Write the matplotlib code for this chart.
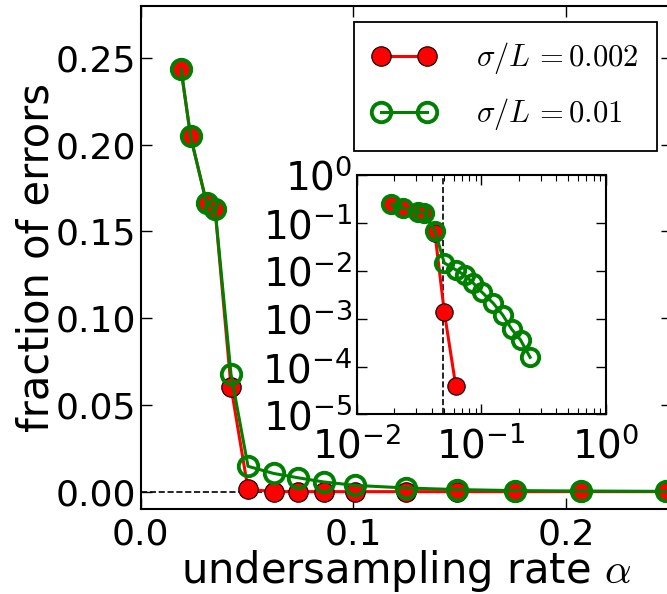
import matplotlib
matplotlib.use("Agg")
import matplotlib.pyplot as plt
import numpy as np

# ---- data ----
alpha = np.array([0.019, 0.0235, 0.031, 0.035, 0.0425, 0.0505, 0.0625, 0.074,
                  0.086, 0.101, 0.125, 0.1487, 0.176, 0.207, 0.247])
err_002 = np.array([0.2436, 0.2047, 0.1665, 0.1628, 0.0604, 0.0014, 3.9e-5, 0,
                    0, 0, 0, 0, 0, 0, 0])
err_01 = np.array([0.2436, 0.2047, 0.1662, 0.163, 0.0677, 0.0146, 0.0105, 0.0080,
                   0.0056, 0.0036, 0.0021, 0.0012, 0.0006, 0.00036, 0.000156])
labels = [r"$\sigma/L\,{=}0.002$", r"$\sigma/L\,{=}0.01$"]
alpha_c = 0.0497   # dashed threshold in the inset

plt.rcParams["mathtext.fontset"] = "cm"
plt.rcParams["axes.unicode_minus"] = False
plt.rcParams["font.family"] = "DejaVu Sans"

fig = plt.figure(figsize=(6.67, 5.94), dpi=100)
ax = fig.add_axes([0.2108, 0.1431, 0.7972, 0.8473])

ax.plot(alpha, err_002, "-o", color="r", lw=2.2, ms=14, mec="k", mew=0.8,
        label=labels[0], zorder=3)
ax.plot(alpha, err_01, "-o", color="g", lw=2.2, ms=14, mfc="none", mec="g",
        mew=2.8, label=labels[1], zorder=4)
ax.axhline(0, color="k", ls="--", lw=1.2, zorder=2)

ax.set_xlim(0, 0.25)
ax.set_ylim(-0.01, 0.28)
ax.set_xticks([0.0, 0.1, 0.2])
ax.set_yticks([0.0, 0.05, 0.10, 0.15, 0.20, 0.25])
ax.set_xticklabels(["0.0", "0.1", "0.2"])
ax.set_yticklabels(["0.00", "0.05", "0.10", "0.15", "0.20", "0.25"])
ax.tick_params(direction="in", top=True, right=True, length=8, width=1,
               labelsize=26)
ax.tick_params(axis="y", pad=3)
ax.tick_params(axis="x", pad=6)
for s in ax.spines.values():
    s.set_linewidth(1.5)
ax.set_xlabel(r"undersampling rate $\alpha$", fontsize=30, labelpad=-2.5)
ax.set_ylabel("fraction of errors", fontsize=30, labelpad=-1)

leg = ax.legend(loc="upper right", bbox_to_anchor=(0.971, 0.9676),
                borderaxespad=0, numpoints=2, fontsize=22, fancybox=False,
                framealpha=1, edgecolor="k", handlelength=2.1,
                borderpad=0.6, labelspacing=0.65, handletextpad=1.3)
leg.get_frame().set_linewidth(1.3)

# ---- inset, log-log ----
ins = fig.add_axes([0.5348, 0.3022, 0.3733, 0.4032])
pos = err_002 > 0
ins.plot(alpha[pos], err_002[pos], "-o", color="r", lw=2.2, ms=12.5, mec="k",
         mew=0.8, zorder=3)
ins.plot(alpha, err_01, "-o", color="g", lw=2.2, ms=12.5, mfc="none", mec="g",
         mew=2.8, zorder=4)
ins.axvline(alpha_c, color="k", ls="--", lw=1.2, zorder=2)
ins.set_xscale("log")
ins.set_yscale("log")
ins.set_xlim(1e-2, 1)
ins.set_ylim(1e-5, 1)
ins.set_xticks([1e-2, 1e-1, 1])
ins.set_yticks([1e-5, 1e-4, 1e-3, 1e-2, 1e-1, 1])
ins.tick_params(which="both", direction="in", top=True, right=True,
                labelsize=28)
ins.tick_params(which="major", length=7, width=1, pad=3)
ins.tick_params(axis="x", which="major", pad=9)
ins.tick_params(which="minor", length=4, width=0.8)
for s in ins.spines.values():
    s.set_linewidth(1.5)

fig.savefig("out.png", dpi=100)
